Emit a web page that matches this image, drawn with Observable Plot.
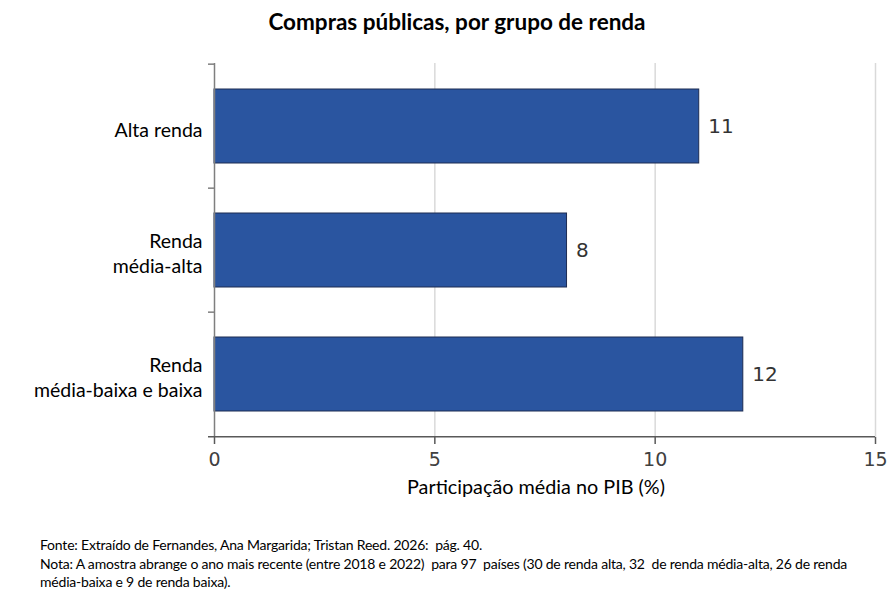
<!DOCTYPE html>
<html>
<head>
<meta charset="utf-8">
<script src="https://cdn.jsdelivr.net/npm/d3@7"></script>
<script src="https://cdn.jsdelivr.net/npm/@observablehq/plot@0.6"></script>
<style>
  body { margin: 0; background: #fff; }
  #wrap { width: 896px; height: 598px; position: relative; overflow: hidden; }
  #title { box-sizing: border-box; width: 896px; height: 50px; padding-top: 9px; padding-left: 18px;
    text-align: center; font-family: Lato, "Open Sans", sans-serif; font-weight: bold; font-size: 22.5px; line-height: 26px; color: #000; }
  #chart svg { display: block; }
  #caption { box-sizing: border-box; padding-top: 16px; padding-left: 40px; font-family: Lato, sans-serif;
    font-size: 14px; line-height: 18.5px; letter-spacing: -0.2px; color: #000; white-space: nowrap; }
</style>
</head>
<body>
<div id="wrap">
  <div id="title">Compras públicas, por grupo de renda</div>
  <div id="chart"></div>
  <div id="caption"></div>
</div>
<script>
const categories = ["Alta renda", "Renda média-alta", "Renda média-baixa e baixa"];
const categoryLabels = ["Alta renda", "Renda\nmédia-alta", "Renda\nmédia-baixa e baixa"];
const values = [11, 8, 12];
const xTicks = [0, 5, 10, 15];
const xLabel = "Participação média no PIB (%)";
const captionLines = [
  "Fonte: Extraído de Fernandes, Ana Margarida; Tristan Reed. 2026:  pág. 40.",
  "Nota: A amostra abrange o ano mais recente (entre 2018 e 2022)  para 97  países (30 de renda alta, 32  de renda média-alta, 26 de renda",
  "média-baixa e 9 de renda baixa)."
];

const data = categories.map((c, i) => ({cat: c, label: categoryLabels[i], value: values[i]}));

const W = 896, H = 470, mt = 13, mb = 83, ml = 214, mr = 21;
const step = (H - mt - mb) / categories.length;
const axisGrey = "#7f7f7f";
const last = categories[categories.length - 1];

const plot = Plot.plot({
  width: W, height: H,
  marginTop: mt, marginBottom: mb, marginLeft: ml, marginRight: mr,
  x: {domain: [0, 15], axis: null},
  y: {domain: categories, paddingInner: 0.4, paddingOuter: 0.2, axis: null},
  marks: [
    Plot.gridX(xTicks.filter(d => d > 0), {stroke: "#d9d9d9", strokeOpacity: 1, strokeWidth: 1.5}),
    Plot.barX(data, {x: "value", y: "cat", fill: "#2A55A0", stroke: "#1d2c52", strokeWidth: 1}),
    Plot.ruleX([0], {stroke: axisGrey, strokeWidth: 1.5}),
    Plot.ruleY(categories, {y: d => d, x1: 0, x2: 0, insetLeft: -6, dy: -step / 2, stroke: axisGrey, strokeWidth: 1.5}),
    Plot.ruleY([last], {y: d => d, x1: 0, x2: 15, insetLeft: -6, dy: step / 2, stroke: "#595959", strokeWidth: 1.5}),
    Plot.axisX({ticks: xTicks, tickSize: 7, tickPadding: 8, fontSize: 19, fontFamily: "DejaVu Sans",
      stroke: "#595959", fill: "#404040", label: null, strokeWidth: 1.5}),
    Plot.text(data, {x: () => 0, y: "cat", text: "label", textAnchor: "end", dx: -12, dy: 2, fontSize: 19.5,
      fontFamily: "Lato", fill: "#000", lineHeight: 1.3}),
    Plot.text(data, {x: "value", y: "cat", text: d => String(d.value), textAnchor: "start", dx: 9,
      fontSize: 20, fontFamily: "DejaVu Sans", fill: "#333"}),
    Plot.text([xLabel], {frameAnchor: "bottom", text: d => d, dy: 56, dx: -9, fontSize: 19.8,
      fontFamily: "Lato", fill: "#000"})
  ]
});
document.getElementById("chart").appendChild(plot);
document.getElementById("caption").innerHTML = captionLines.map(s => s.replace(/  /g, "&nbsp; ")).join("<br>");
</script>
</body>
</html>
